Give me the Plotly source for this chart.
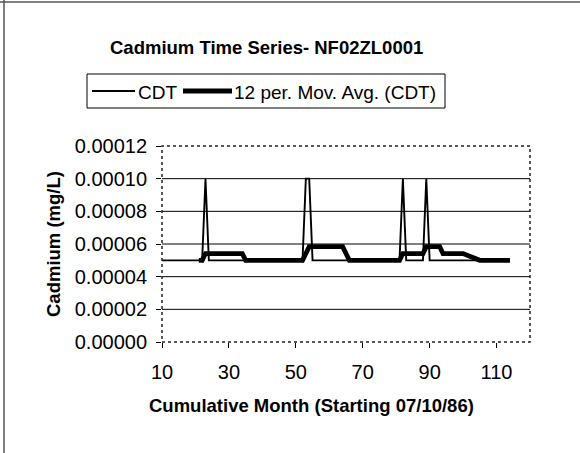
import plotly.graph_objects as go
import pandas as pd

# ---- data ----
months = list(range(10, 101)) + list(range(105, 115))
cdt = [
    # 10-19
    0.00005, 0.00005, 0.00005, 0.00005, 0.00005, 0.00005, 0.00005, 0.00005, 0.00005, 0.00005,
    # 20-29
    0.00005, 0.00005, 0.00005, 0.00010, 0.00005, 0.00005, 0.00005, 0.00005, 0.00005, 0.00005,
    # 30-39
    0.00005, 0.00005, 0.00005, 0.00005, 0.00005, 0.00005, 0.00005, 0.00005, 0.00005, 0.00005,
    # 40-49
    0.00005, 0.00005, 0.00005, 0.00005, 0.00005, 0.00005, 0.00005, 0.00005, 0.00005, 0.00005,
    # 50-59
    0.00005, 0.00005, 0.00005, 0.00010, 0.00010, 0.00005, 0.00005, 0.00005, 0.00005, 0.00005,
    # 60-69
    0.00005, 0.00005, 0.00005, 0.00005, 0.00005, 0.00005, 0.00005, 0.00005, 0.00005, 0.00005,
    # 70-79
    0.00005, 0.00005, 0.00005, 0.00005, 0.00005, 0.00005, 0.00005, 0.00005, 0.00005, 0.00005,
    # 80-89
    0.00005, 0.00005, 0.00010, 0.00005, 0.00005, 0.00005, 0.00005, 0.00005, 0.00005, 0.00010,
    # 90-100
    0.00005, 0.00005, 0.00005, 0.00005, 0.00005, 0.00005, 0.00005, 0.00005, 0.00005, 0.00005,
    0.00005,
    # 105-114
    0.00005, 0.00005, 0.00005, 0.00005, 0.00005, 0.00005, 0.00005, 0.00005, 0.00005, 0.00005,
]
ma_period = 12
x_ticks = [10, 30, 50, 70, 90, 110]
y_ticks = [0.0, 0.00002, 0.00004, 0.00006, 0.00008, 0.00010, 0.00012]

title_text = "Cadmium Time Series- NF02ZL0001"
x_title = "Cumulative Month (Starting 07/10/86)"
y_title = "Cadmium (mg/L)"
series_names = ["CDT", "12 per. Mov. Avg. (CDT)"]

# 12-period moving average trendline (as Excel computes it)
s = pd.Series(cdt, index=months)
ma = s.rolling(ma_period).mean().dropna()

FONT = "Liberation Sans, Arial, Helvetica, sans-serif"

# plot area in pixels
W, H = 580, 453
L, R, T, B = 162, 530, 146, 342
pw, ph = R - L, B - T


def px_x(px):
    return (px - L) / pw


def px_y(py):
    return (B - py) / ph


fig = go.Figure()
fig.add_trace(go.Scatter(x=months, y=cdt, mode="lines", name=series_names[0],
                         line=dict(color="black", width=1.9), showlegend=False))
fig.add_trace(go.Scatter(x=list(ma.index), y=list(ma.values), mode="lines",
                         name=series_names[1],
                         line=dict(color="black", width=4.8), showlegend=False))

shapes = []
# interior gridlines
for v in y_ticks[1:-1]:
    shapes.append(dict(type="line", xref="paper", yref="y", x0=0, x1=1, y0=v, y1=v,
                       line=dict(color="black", width=1), layer="below"))
# dotted plot-area border
shapes.append(dict(type="rect", xref="paper", yref="paper", x0=0, x1=1, y0=0, y1=1,
                   line=dict(color="#222", width=1.5, dash="dot")))
# outer chart frame (left and top edges)
shapes.append(dict(type="line", xref="paper", yref="paper", x0=px_x(4), x1=px_x(4),
                   y0=px_y(0), y1=px_y(H), line=dict(color="#555", width=1.5)))
shapes.append(dict(type="line", xref="paper", yref="paper", x0=px_x(0), x1=px_x(W),
                   y0=px_y(2), y1=px_y(2), line=dict(color="#555", width=1.5)))

# legend box
LEG_Y = 91
shapes.append(dict(type="rect", xref="paper", yref="paper", x0=px_x(87), x1=px_x(445),
                   y0=px_y(108), y1=px_y(74), line=dict(color="black", width=1),
                   fillcolor="white"))
shapes.append(dict(type="line", xref="paper", yref="paper", x0=px_x(92), x1=px_x(135),
                   y0=px_y(LEG_Y), y1=px_y(LEG_Y), line=dict(color="black", width=1.9)))
shapes.append(dict(type="line", xref="paper", yref="paper", x0=px_x(183), x1=px_x(232),
                   y0=px_y(LEG_Y), y1=px_y(LEG_Y), line=dict(color="black", width=5)))

annotations = [
    dict(text="<b>" + title_text + "</b>", xref="paper", yref="paper",
         x=px_x(266), y=px_y(47), xanchor="center", yanchor="middle",
         showarrow=False, font=dict(family=FONT, size=18.5, color="black")),
    dict(text=series_names[0], xref="paper", yref="paper",
         x=px_x(136), y=px_y(LEG_Y + 1), xanchor="left", yanchor="middle",
         showarrow=False, font=dict(family=FONT, size=19, color="black")),
    dict(text=series_names[1], xref="paper", yref="paper",
         x=px_x(232), y=px_y(LEG_Y + 1), xanchor="left", yanchor="middle",
         showarrow=False, font=dict(family=FONT, size=19, color="black")),
    dict(text="<b>" + x_title + "</b>", xref="paper", yref="paper",
         x=px_x(311), y=px_y(405), xanchor="center", yanchor="middle",
         showarrow=False, font=dict(family=FONT, size=18.5, color="black")),
    dict(text="<b>" + y_title + "</b>", xref="paper", yref="paper",
         x=px_x(53), y=px_y(244), xanchor="center", yanchor="middle", textangle=-90,
         showarrow=False, font=dict(family=FONT, size=18.5, color="black")),
]

fig.update_layout(
    width=W, height=H,
    margin=dict(l=L, r=W - R, t=T, b=H - B, pad=0),
    paper_bgcolor="white", plot_bgcolor="white",
    showlegend=False,
    xaxis=dict(range=[10, 120], tickvals=x_ticks, ticks="outside", ticklen=5,
               tickcolor="black", showgrid=False, zeroline=False, showline=False,
               ticklabelstandoff=7,
               tickfont=dict(family=FONT, size=20, color="black")),
    yaxis=dict(range=[0, 0.00012], tickvals=y_ticks, tickformat=".5f",
               ticks="outside", ticklen=5, tickcolor="black", showgrid=False,
               zeroline=False, showline=False, ticklabelstandoff=5,
               tickfont=dict(family=FONT, size=20, color="black")),
    shapes=shapes,
    annotations=annotations,
)

fig.write_html("out.html", config={"displayModeBar": False},
               post_script="document.body.style.margin='0';document.body.style.overflow='hidden';")
